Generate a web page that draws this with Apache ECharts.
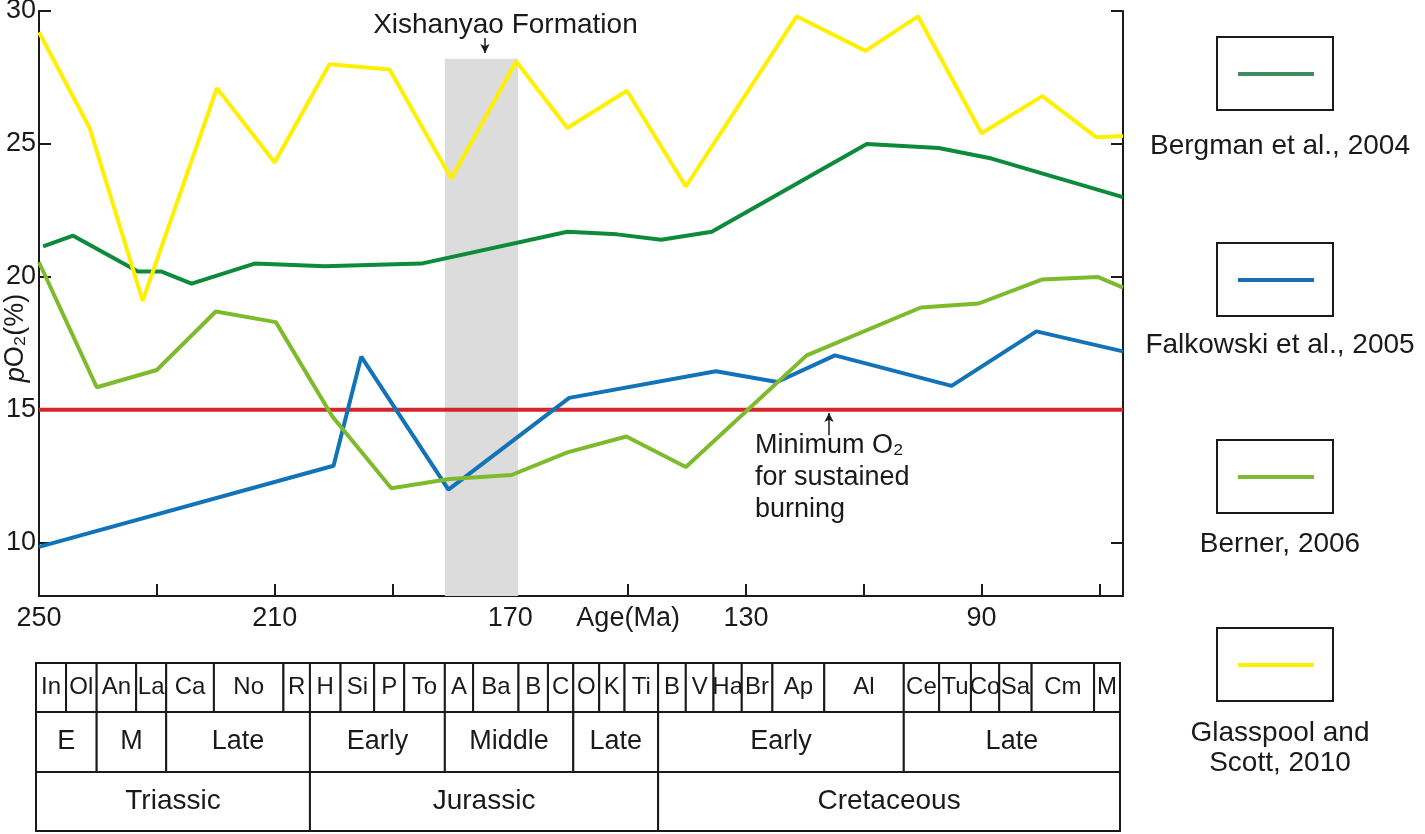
<!DOCTYPE html>
<html>
<head>
<meta charset="utf-8">
<title>pO2 through the Mesozoic</title>
<script src="https://cdn.jsdelivr.net/npm/echarts@6.0.0/dist/echarts.min.js"></script>
<style>
html, body { margin: 0; padding: 0; background: #fff; }
#chart { width: 1425px; height: 834px; }
</style>
</head>
<body>
<div id="chart"></div>
<script>
// ages in Ma, pO2 in %
var bergmanAge = [249.3, 244.2, 233.2, 229.2, 224.1, 213.4, 201.5, 185.1, 160.3, 151.9, 144.4, 135.8, 109.5, 97.3, 88.3, 66];
var bergmanO2  = [21.15, 21.55, 20.2, 20.2, 19.75, 20.5, 20.4, 20.5, 21.7, 21.6, 21.4, 21.7, 25.0, 24.85, 24.45, 23.0];

var falkowskiAge = [250, 200, 195.3, 180.5, 160, 135.1, 124.7, 114.9, 95.1, 80.7, 66];
var falkowskiO2  = [9.85, 12.9, 17.0, 12.0, 15.45, 16.45, 16.05, 17.05, 15.9, 17.95, 17.2];

var bernerAge = [250, 240.2, 230, 220, 209.8, 200.2, 190.2, 180.3, 169.8, 160.3, 150.3, 140.2, 119.7, 100.3, 90.5, 79.8, 70.3, 66];
var bernerO2  = [20.55, 15.85, 16.5, 18.7, 18.3, 14.75, 12.05, 12.4, 12.55, 13.4, 14.0, 12.85, 17.05, 18.85, 19.0, 19.9, 20.0, 19.6];

var glasspoolAge = [250, 241.4, 232.4, 219.8, 210, 200.7, 190.5, 180, 169, 160.3, 150.2, 140.2, 121.4, 109.7, 100.8, 90, 79.7, 70.5, 66];
var glasspoolO2  = [29.2, 25.6, 19.1, 27.1, 24.3, 28.0, 27.8, 23.7, 28.1, 25.6, 27.0, 23.4, 29.8, 28.5, 29.8, 25.4, 26.8, 25.25, 25.3];

var minO2Level = 15;
var xishanyaoBand = [181.1, 168.7];
var xishanyaoTop = 28.2;

var xTicks = [250, 230, 210, 190, 170, 150, 130, 110, 90, 70];
var xLabels = [250, 210, 170, 150, 130, 90];
var yTicks = [10, 15, 20, 25, 30];

// geological time scale (boundaries in Ma)
var stageNames  = ['In', 'Ol', 'An', 'La', 'Ca', 'No', 'R', 'H', 'Si', 'P', 'To', 'A', 'Ba', 'B', 'C', 'O', 'K', 'Ti',
                   'B', 'V', 'Ha', 'Br', 'Ap', 'Al', 'Ce', 'Tu', 'Co', 'Sa', 'Cm', 'M'];
var stageBounds = [250, 244.9, 239.7, 233.0, 227.9, 219.8, 208.0, 203.5, 198.3, 192.6, 187.5, 180.6, 175.8, 168.1,
                   163.1, 158.8, 154.4, 150.1, 144.4, 139.7, 135.0, 130.2, 125.0, 116.2, 102.7, 96.7, 91.3, 86.5, 81.0, 70.4, 66];
var epochNames  = ['E', 'M', 'Late', 'Early', 'Middle', 'Late', 'Early', 'Late'];
var epochBounds = [250, 239.7, 227.9, 203.5, 180.6, 158.8, 144.4, 102.7, 66];
var periodNames  = ['Triassic', 'Jurassic', 'Cretaceous'];
var periodBounds = [250, 203.5, 144.4, 66];

var FONT = '"Liberation Sans", Arial, Helvetica, sans-serif';
var INK = '#1a1a1a';

function pairs(ages, vals) {
    var out = [];
    for (var i = 0; i < ages.length; i++) {
        out.push([ages[i], vals[i]]);
    }
    return out;
}

var tableCells = [];
function addRow(names, bounds, row) {
    for (var i = 0; i < names.length; i++) {
        tableCells.push({ start: bounds[i], end: bounds[i + 1], row: row, label: names[i] });
    }
}
addRow(stageNames, stageBounds, 0);
addRow(epochNames, epochBounds, 1);
addRow(periodNames, periodBounds, 2);

var rowSplit = [0, 0.292, 0.649, 1];
var rowFont = [24, 27, 28];

var curves = [
    { name: 'Bergman et al., 2004', data: pairs(bergmanAge, bergmanO2), color: '#0e8a3c', key: '#3f8b62' },
    { name: 'Falkowski et al., 2005', data: pairs(falkowskiAge, falkowskiO2), color: '#1273b9', key: '#1a6db5' },
    { name: 'Berner, 2006', data: pairs(bernerAge, bernerO2), color: '#7dbb2c', key: '#80bc33' },
    { name: 'Glasspool and\nScott, 2010', data: pairs(glasspoolAge, glasspoolO2), color: '#fff000', key: '#fff000' }
];

// legend drawn as boxes with a line, label underneath
var legendBoxTop = [37, 243, 440, 628];
var legendTextY = [146, 345, 544, 748];
var legendGraphics = [];
curves.forEach(function(c, i) {
    legendGraphics.push({
        type: 'rect',
        shape: { x: 1217, y: legendBoxTop[i], width: 116, height: 73 },
        style: { fill: 'none', stroke: INK, lineWidth: 2 }
    });
    legendGraphics.push({
        type: 'line',
        shape: { x1: 1238, y1: legendBoxTop[i] + 37, x2: 1314, y2: legendBoxTop[i] + 37 },
        style: { stroke: c.key, lineWidth: 4 }
    });
    legendGraphics.push({
        type: 'text',
        x: 1280,
        y: legendTextY[i],
        style: {
            text: c.name, fontSize: 28, fontFamily: FONT, fill: INK,
            align: 'center', verticalAlign: 'middle', lineHeight: 30
        }
    });
});

var chart = echarts.init(document.getElementById('chart'), null, { renderer: 'canvas' });

var series = [{
    name: 'Minimum O2',
    type: 'line',
    data: [[250, minO2Level], [66, minO2Level]],
    symbol: 'none',
    silent: true,
    z: 2,
    lineStyle: { color: '#d3262a', width: 4 },
    itemStyle: { color: '#d3262a' },
    markArea: {
        silent: true,
        itemStyle: { color: '#dcdcdc' },
        label: {
            show: true, position: 'top', distance: 20, offset: [24, 0],
            formatter: '{b}', fontSize: 28, fontFamily: FONT, color: INK
        },
        data: [[
            { name: 'Xishanyao Formation', xAxis: xishanyaoBand[0], yAxis: 8 },
            { xAxis: xishanyaoBand[1], yAxis: xishanyaoTop }
        ]]
    },
    markLine: {
        silent: true,
        label: { show: false },
        lineStyle: { color: INK, width: 1.5, type: 'solid' },
        data: [
            [{ coord: [174.3, 28.98], symbol: 'none' }, { coord: [174.3, 28.42], symbol: 'arrow', symbolSize: [7, 9] }],
            [{ coord: [115.9, 14.05], symbol: 'none' }, { coord: [115.9, 14.88], symbol: 'arrow', symbolSize: [7, 9] }]
        ]
    }
}];

curves.forEach(function(c) {
    series.push({
        name: c.name,
        type: 'line',
        data: c.data,
        symbol: 'none',
        z: 3,
        lineStyle: { color: c.color, width: 4 },
        itemStyle: { color: c.color }
    });
});

series.push({
    name: 'Time scale',
    type: 'custom',
    xAxisIndex: 1,
    yAxisIndex: 2,
    silent: true,
    data: tableCells.map(function(c) { return [c.start, c.end, c.row]; }),
    encode: { x: [0, 1] },
    renderItem: function(params, api) {
        var cell = tableCells[params.dataIndex];
        var cs = params.coordSys;
        var x0 = api.coord([cell.start, 0])[0];
        var x1 = api.coord([cell.end, 0])[0];
        var y0 = cs.y + cs.height * rowSplit[cell.row];
        var y1 = cs.y + cs.height * rowSplit[cell.row + 1];
        return {
            type: 'group',
            children: [{
                type: 'rect',
                shape: { x: Math.min(x0, x1), y: y0, width: Math.abs(x1 - x0), height: y1 - y0 },
                style: { fill: '#fff', stroke: INK, lineWidth: 2 }
            }, {
                type: 'text',
                x: (x0 + x1) / 2,
                y: (y0 + y1) / 2,
                style: {
                    text: cell.label, fontSize: rowFont[cell.row], fontFamily: FONT, fill: INK,
                    align: 'center', verticalAlign: 'middle'
                }
            }]
        };
    }
});

var axisLine = { show: true, onZero: false, lineStyle: { color: INK, width: 2 } };

option = {
    animation: false,
    backgroundColor: '#fff',
    textStyle: { fontFamily: FONT },
    grid: [
        { left: 39, right: 302, top: 11, bottom: 238, outerBoundsMode: 'none' },
        { left: 36, right: 305, top: 663, bottom: 3, outerBoundsMode: 'none' }
    ],
    xAxis: [{
        type: 'value', gridIndex: 0, min: 66, max: 250, inverse: true,
        axisLine: axisLine,
        axisTick: { show: true, inside: true, length: 12, customValues: xTicks, lineStyle: { color: INK, width: 2 } },
        axisLabel: {
            show: true, customValues: xLabels, margin: 9, fontSize: 27, color: INK, fontFamily: FONT,
            formatter: function(v) { return v === 150 ? 'Age(Ma)' : String(v); }
        },
        splitLine: { show: false }
    }, {
        type: 'value', gridIndex: 1, min: 66, max: 250, inverse: true, show: false
    }],
    yAxis: [{
        type: 'value', gridIndex: 0, min: 8, max: 30, position: 'left',
        axisLine: axisLine,
        axisTick: { show: true, inside: true, length: 12, customValues: yTicks, lineStyle: { color: INK, width: 2 } },
        axisLabel: { show: true, customValues: yTicks, margin: 3, fontSize: 27, color: INK, fontFamily: FONT },
        splitLine: { show: false }
    }, {
        type: 'value', gridIndex: 0, min: 8, max: 30, position: 'right',
        axisLine: axisLine,
        axisTick: { show: true, inside: true, length: 12, customValues: yTicks, lineStyle: { color: INK, width: 2 } },
        axisLabel: { show: false },
        splitLine: { show: false }
    }, {
        type: 'value', gridIndex: 1, min: 0, max: 1, show: false
    }],
    graphic: legendGraphics.concat([{
        type: 'text',
        x: 16,
        y: 338,
        rotation: Math.PI / 2,
        style: {
            text: '{i|p}O₂(%)',
            rich: { i: { fontStyle: 'italic', fontSize: 27, fontFamily: FONT, fill: INK } },
            fontSize: 27, fontFamily: FONT, fill: INK,
            align: 'center', verticalAlign: 'middle'
        }
    }, {
        type: 'text',
        x: 755,
        y: 430,
        style: {
            text: 'Minimum O₂\nfor sustained\nburning',
            fontSize: 27, fontFamily: FONT, fill: INK, lineHeight: 32,
            align: 'left', verticalAlign: 'top'
        }
    }]),
    series: series
};

chart.setOption(option);
</script>
</body>
</html>
